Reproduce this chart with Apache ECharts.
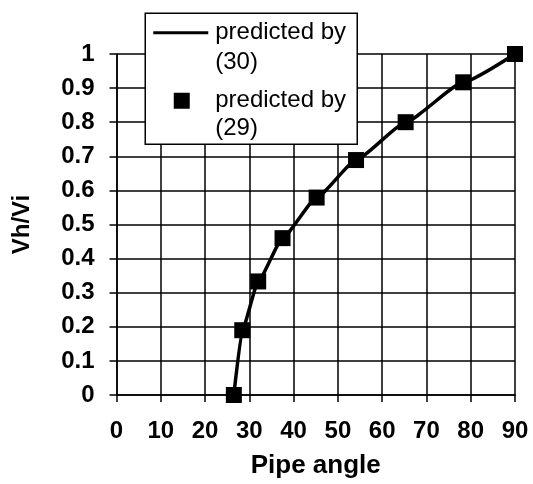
<!DOCTYPE html>
<html>
<head>
<meta charset="utf-8">
<script src="https://cdn.jsdelivr.net/npm/echarts@6/dist/echarts.min.js"></script>
<style>
  html, body { margin: 0; padding: 0; background: #fff; }
  #chart { width: 533px; height: 484px; }
</style>
</head>
<body>
<div id="chart"></div>
<script>
// Pipe angle (degrees) and velocity ratio Vh/Vi
var pipeAngle = [26.5, 28.4, 32.0, 37.5, 45.2, 54.1, 65.3, 78.3, 90];
var ratioEq29 = [0, 0.19, 0.333, 0.46, 0.579, 0.689, 0.80, 0.917, 1.0];
var ratioEq30 = [0, 0.19, 0.333, 0.46, 0.579, 0.689, 0.80, 0.917, 1.0];
var xTicks = [0, 10, 20, 30, 40, 50, 60, 70, 80, 90];
var yTicks = [0, 0.1, 0.2, 0.3, 0.4, 0.5, 0.6, 0.7, 0.8, 0.9, 1];
var legendNames = ['predicted by (30)', 'predicted by (29)'];

var FONT = '"Liberation Sans", Arial, Helvetica, sans-serif';

function pairs(xs, ys) {
  return xs.map(function (x, i) { return [x, ys[i]]; });
}

var chart = echarts.init(document.getElementById('chart'), null, { renderer: 'canvas' });

var axisCommon = {
  axisLine: { show: true, lineStyle: { color: '#000', width: 1.5 } },
  axisTick: { show: true, inside: false, length: 7, lineStyle: { color: '#000', width: 1.5 } },
  splitLine: { show: true, lineStyle: { color: '#000', width: 1.5 } },
  axisLabel: { color: '#000', fontFamily: FONT, fontWeight: 'bold', fontSize: 24 },
  nameTextStyle: { color: '#000', fontFamily: FONT, fontWeight: 'bold' }
};

var LEGEND_Z = 100;
var legendFont = '24px ' + FONT;

chart.setOption({
  animation: false,
  backgroundColor: '#fff',
  grid: { left: 116.5, right: 18, top: 54, bottom: 87, containLabel: false },
  xAxis: Object.assign({}, axisCommon, {
    type: 'value',
    min: xTicks[0],
    max: xTicks[xTicks.length - 1],
    interval: 10,
    name: 'Pipe angle',
    nameLocation: 'middle',
    nameGap: 58,
    nameTextStyle: Object.assign({}, axisCommon.nameTextStyle, { fontSize: 26 }),
    axisLabel: Object.assign({}, axisCommon.axisLabel, { margin: 24 })
  }),
  yAxis: Object.assign({}, axisCommon, {
    type: 'value',
    min: yTicks[0],
    max: yTicks[yTicks.length - 1],
    interval: 0.1,
    name: 'Vh/Vi',
    nameLocation: 'middle',
    nameRotate: 90,
    nameGap: 82,
    nameTextStyle: Object.assign({}, axisCommon.nameTextStyle, { fontSize: 24 }),
    axisLabel: Object.assign({}, axisCommon.axisLabel, {
      margin: 22,
      formatter: function (v) { return String(Math.round(v * 10) / 10); }
    })
  }),
  series: [
    {
      name: legendNames[0],
      type: 'line',
      data: pairs(pipeAngle, ratioEq30),
      smooth: 0.15,
      smoothMonotone: 'x',
      symbol: 'none',
      lineStyle: { color: '#000', width: 3.5 },
      z: 3
    },
    {
      name: legendNames[1],
      type: 'scatter',
      data: pairs(pipeAngle, ratioEq29),
      symbol: 'rect',
      symbolSize: 16,
      itemStyle: { color: '#000', opacity: 1 },
      z: 4
    }
  ],
  graphic: [
    {
      type: 'group',
      left: 144.5,
      top: 12.5,
      z: LEGEND_Z,
      children: [
        {
          type: 'rect',
          z: LEGEND_Z,
          shape: { x: 0, y: 0, width: 212, height: 131 },
          style: { fill: '#fff', stroke: '#000', lineWidth: 1.5 }
        },
        {
          type: 'line',
          z: LEGEND_Z + 1,
          shape: { x1: 8, y1: 19.5, x2: 63, y2: 19.5 },
          style: { stroke: '#000', lineWidth: 3 }
        },
        {
          type: 'rect',
          z: LEGEND_Z + 1,
          shape: { x: 28.5, y: 79.5, width: 16, height: 16 },
          style: { fill: '#000' }
        },
        {
          type: 'text',
          z: LEGEND_Z + 1,
          x: 70, y: 19.5,
          style: { text: 'predicted by', fill: '#000', font: legendFont, verticalAlign: 'middle' }
        },
        {
          type: 'text',
          z: LEGEND_Z + 1,
          x: 70, y: 49,
          style: { text: '(30)', fill: '#000', font: legendFont, verticalAlign: 'middle' }
        },
        {
          type: 'text',
          z: LEGEND_Z + 1,
          x: 70, y: 87,
          style: { text: 'predicted by', fill: '#000', font: legendFont, verticalAlign: 'middle' }
        },
        {
          type: 'text',
          z: LEGEND_Z + 1,
          x: 70, y: 115,
          style: { text: '(29)', fill: '#000', font: legendFont, verticalAlign: 'middle' }
        }
      ]
    }
  ]
});
</script>
</body>
</html>
